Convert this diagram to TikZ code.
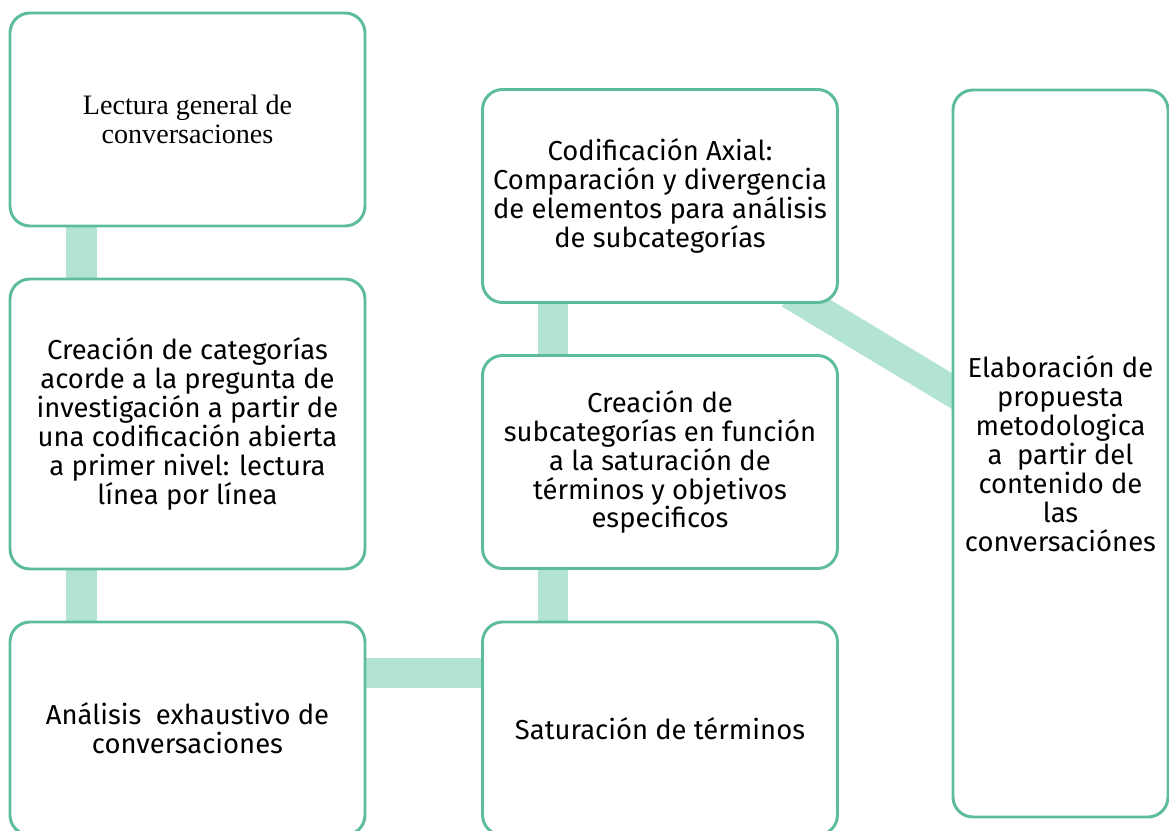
\documentclass[tikz,border=0pt]{standalone}
\usepackage{fontspec}
\setmainfont{Liberation Serif}
\setsansfont{Fira Sans}
\usetikzlibrary{backgrounds}
\definecolor{boxline}{HTML}{5CBC9C}
\definecolor{bandfill}{HTML}{B3E3D3}

\begin{document}
\begin{tikzpicture}[
  box/.style={rectangle, draw=boxline, line width=2.1pt, rounded corners=0.5cm, fill=white, minimum width=8.875cm, minimum height=5.325cm, align=center, font=\sffamily\fontsize{19.5}{20.6}\selectfont},
  link/.style={draw=bandfill, line width=0.77cm}
]
\useasboundingbox (0,0) rectangle (29.225,-20.775);

% Left column
\node[box, font=\rmfamily\fontsize{20}{20.3}\selectfont] (lectura) at (4.6875,-2.9875) {Lectura general de\\conversaciones};
\node[box, minimum height=7.25cm] (categorias) at (4.6875,-10.6) {Creación de categorías\\acorde a la pregunta de\\investigación a partir de\\una codificación abierta\\a primer nivel: lectura\\línea por línea};
\node[box] (analisis) at (4.6875,-18.2125) {Análisis \ exhaustivo de\\conversaciones};

% Middle column
\node[box] (axial) at (16.5,-4.9) {Codificación Axial:\\Comparación y divergencia\\de elementos para análisis\\de subcategorías};
\node[box] (subcat) at (16.5,-11.55) {Creación de\\subcategorías en función\\a la saturación de\\términos y objetivos\\especificos};
\node[box] (saturacion) at (16.5,-18.2125) {Saturación de términos};

% Right column
\node[box, minimum width=5.375cm, minimum height=18.175cm] (propuesta) at (26.5125,-11.3375) {Elaboración de\\propuesta\\metodologica\\a \ partir del\\contenido de\\las\\conversaciónes};

% Bands between the boxes
\begin{scope}[on background layer]
\draw[link] ([xshift=1.825cm]lectura.south west) -- ([xshift=1.825cm]categorias.north west);
\draw[link] ([xshift=1.825cm]categorias.south west) -- ([xshift=1.825cm]analisis.north west);
\draw[link] ([yshift=-1.3125cm]analisis.north east) -- ([yshift=-1.3125cm]saturacion.north west);
\draw[link] ([xshift=1.8cm]saturacion.north west) -- ([xshift=1.8cm]subcat.south west);
\draw[link] ([xshift=1.8cm]subcat.north west) -- ([xshift=1.8cm]axial.south west);
\draw[link] ([shift={(7.725cm,0.2625cm)}]axial.south west) -- ([shift={(0.425cm,-7.8125cm)}]propuesta.north west);
\end{scope}

\end{tikzpicture}
\end{document}
